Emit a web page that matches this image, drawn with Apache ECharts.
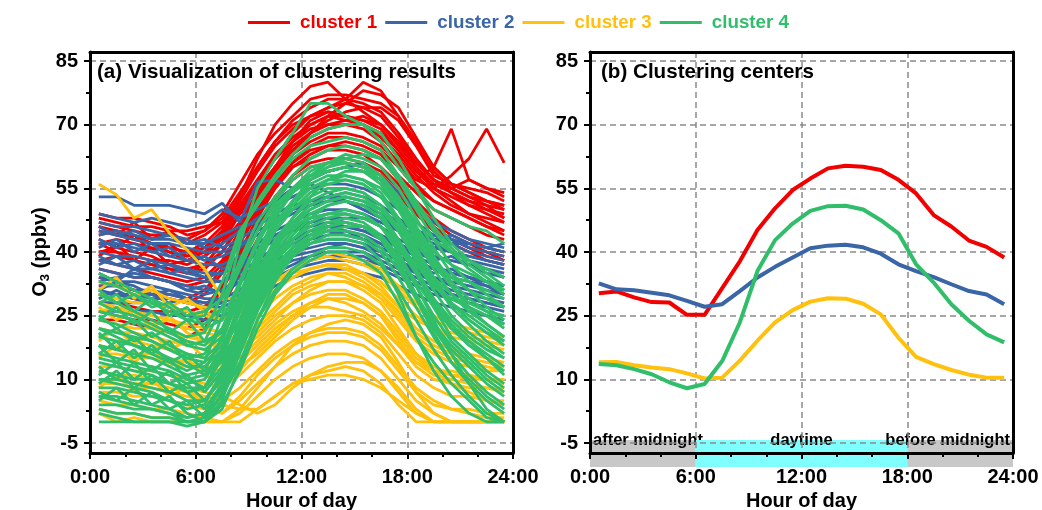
<!DOCTYPE html>
<html>
<head>
<meta charset="utf-8">
<script src="https://cdn.jsdelivr.net/npm/echarts@6/dist/echarts.min.js"></script>
<style>html,body{margin:0;padding:0;background:#fff;}#c{width:1042px;height:510px;}</style>
</head>
<body>
<div id="c"></div>
<script>
// ---------- DATA ----------
const hours = [0.5,1.5,2.5,3.5,4.5,5.5,6.5,7.5,8.5,9.5,10.5,11.5,12.5,13.5,14.5,15.5,16.5,17.5,18.5,19.5,20.5,21.5,22.5,23.5];
const clusterNames = ['cluster 1','cluster 2','cluster 3','cluster 4'];

// Panel (b): clustering centers
const center1 = [30.3,30.7,29.3,28.2,28.1,25.2,25.2,31.5,37.8,45.2,50.3,54.6,57.3,59.7,60.3,60.1,59.3,57.0,53.8,48.7,46.0,42.7,41.2,38.7];
const center2 = [32.6,31.2,31.0,30.4,29.8,28.5,27.1,27.7,30.8,34.0,36.5,38.7,40.9,41.5,41.7,41.1,39.6,37.1,35.5,34.1,32.4,30.8,30.0,27.7];
const center3 = [14.0,14.1,13.3,12.8,12.4,11.4,10.2,10.4,14.4,19.1,23.4,26.3,28.3,29.1,29.0,27.8,25.3,19.8,15.3,13.6,12.2,11.1,10.4,10.4];
const center4 = [13.6,13.3,12.4,11.2,9.3,7.9,8.9,14.3,23.4,35.5,42.8,46.7,49.7,50.8,50.9,50.0,47.5,44.4,37.1,32.8,27.7,23.8,20.6,18.7];

// Panel (a): individual daily profiles, cluster 1
const red01 = [44,45,44,42,41,40,41,44,50,56,62,68,72,74,76,80,78,72,66,60,56,54,52,50];
const red02 = [46,45,43,42,41,40,42,46,53,62,70,75,79,80,76,73,70,65,60,55,52,49,47,45];
const red03 = [40,41,40,39,37,36,37,40,46,53,60,66,70,72,71,70,68,62,57,60,69,57,55,53];
const red04 = [38,39,38,37,36,35,36,40,47,54,60,65,68,70,70,69,66,61,57,55,58,62,69,61];
const red05 = [49,48,48,47,46,44,45,48,54,60,66,70,72,73,72,71,70,66,60,56,55,57,55,54];
const red06 = [42,40,38,37,36,35,37,42,49,56,62,66,69,70,71,72,70,66,61,57,54,51,49,47];
const red07 = [38,37,36,35,34,33,34,38,45,52,58,63,66,68,68,67,65,61,56,52,50,48,46,45];
const red08 = [36,35,34,34,33,32,33,37,44,50,56,61,64,65,66,65,63,58,54,50,48,46,44,43];
const red09 = [34,33,31,30,29,28,30,35,42,49,55,60,63,65,65,64,62,57,52,48,45,43,41,40];
const red10 = [30,30,29,28,27,26,27,32,40,48,55,60,62,64,64,63,60,56,51,47,44,42,40,39];
const red11 = [28,28,27,26,26,25,26,31,39,46,53,58,61,62,62,61,59,55,50,46,43,41,40,38];
const red12 = [26,25,24,24,23,22,24,29,37,45,52,57,60,61,61,60,58,54,49,45,42,40,38,37];
const red13 = [45,44,43,42,40,39,40,43,49,55,60,64,67,69,70,70,68,64,59,56,54,52,51,50];
const red14 = [40,40,39,38,38,37,39,44,51,57,62,66,71,73,72,70,67,63,58,54,51,49,48,47];
const red15 = [47,46,45,44,44,43,45,49,56,63,68,72,76,77,77,76,75,72,66,59,55,53,51,48];
const red16 = [32,32,31,30,30,29,31,36,43,50,56,61,65,67,67,66,64,60,55,52,50,48,46,44];
const red17 = [24,24,23,22,21,20,22,27,35,43,50,55,58,59,60,59,57,53,49,45,43,41,39,38];
const red18 = [42,43,42,41,40,38,39,42,47,53,59,64,68,71,73,74,74,71,65,58,56,55,54,52];
const red19 = [48,47,46,46,45,45,46,47,49,52,57,63,68,72,75,78,77,74,67,60,56,54,52,51];
const red20 = [43,41,44,40,42,39,41,45,52,59,65,69,72,74,75,74,72,67,61,57,55,53,52,51];
const red21 = [39,42,38,41,37,38,40,44,50,57,63,67,70,72,72,71,69,64,59,55,53,51,50,49];
const red22 = [46,44,47,43,45,42,44,47,53,60,66,71,74,76,76,75,73,68,62,57,54,52,50,48];

// cluster 2
const blue01 = [53,53,51,51,51,50,49,51.5,47,56.5,57,55,56,54,52,50,48,45,43,41,40,39,38,37];
const blue02 = [49,48,47,48,47,46,47,50,48,50,52,55,57,59,60,61,58,54,50,47,45,43,42,41];
const blue03 = [45,44,43,42,42,41,40,40,42,44,47,49,51,52,52,51,49,46,44,42,40,39,38,37];
const blue04 = [40,39,39,38,37,36,35,35,37,40,43,46,48,49,49,48,46,43,41,39,38,37,36,35];
const blue05 = [38,37,36,36,35,34,33,33,35,38,41,43,45,46,46,45,43,41,39,37,35,34,33,32];
const blue06 = [36,35,34,34,33,32,31,31,33,36,39,42,43,44,45,44,42,40,38,36,34,33,32,31];
const blue07 = [34,33,33,32,31,30,29,29,31,34,37,40,42,43,43,42,40,38,36,34,32,31,30,29];
const blue08 = [32,32,31,31,30,29,28,28,30,33,36,39,40,41,42,41,39,37,35,33,31,30,29,28];
const blue09 = [30,30,30,29,29,28,27,27,29,32,35,37,39,40,40,40,38,36,34,32,30,29,28,27];
const blue10 = [28,28,28,28,27,26,25,25,27,30,33,36,37,38,38,37,36,34,32,30,29,28,27,26];
const blue11 = [26,26,26,26,25,25,24,24,26,29,32,34,35,36,36,35,34,32,30,28,27,26,25,24];
const blue12 = [33,34,35,34,33,31,30,31,34,37,40,42,44,45,44,43,41,39,37,36,35,34,32,30];
const blue13 = [42,42,41,40,39,38,37,37,39,41,44,46,47,48,48,48,47,45,43,41,40,38,37,36];
const blue14 = [31,30,29,28,27,26,25,26,28,31,34,36,38,39,39,38,37,35,33,31,29,27,25,23];
const blue15 = [47,46,46,45,44,43,41,42,45,48,51,53,55,56,56,55,53,50,47,44,43,41,40,39];
const blue16 = [44,45,44,43,43,42,42,44,46,47,48,50,52,53,54,53,51,48,45,43,42,42,41,40];
const blue17 = [41,43,40,42,39,40,38,39,41,45,47,50,51,53,52,50,48,46,44,43,44,42,41,40];
const blue18 = [37,39,36,38,35,36,34,33,36,40,44,45,47,48,47,46,44,41,40,38,39,37,36,34];
const blue19 = [35,33,36,34,33,31,32,30,33,37,40,43,44,46,45,43,42,39,37,35,36,34,33,32];
const blue20 = [43,41,42,40,41,38,39,36,38,42,45,47,49,50,50,49,47,45,42,41,42,40,39,38];
const blue21 = [31,33,32,30,31,29,28,29,31,35,38,40,41,42,42,41,40,38,35,34,33,32,31,30];
const blue22 = [39,37,38,36,37,35,34,35,37,40,43,45,46,47,46,45,44,42,40,39,38,37,35,34];
const blue23 = [29,31,29,30,28,29,27,28,30,33,36,38,39,40,39,39,37,35,33,31,30,29,28,27];
const blue24 = [46,44,45,43,44,42,43,41,43,46,49,51,52,53,53,52,50,47,45,44,43,42,41,42];

// cluster 3
const yel01 = [56,53.5,48,50,44.5,40.5,36,29,29,31,33,35,36,37,36,34,31,27,24,22,21,20,19,18];
const yel02 = [33,32,30,31,29,28,27,26,27,30,33,36,38,39,38,37,35,31,27,24,22,21,20,19];
const yel03 = [28,27,26,25,24,23,22,21,23,27,31,34,36,37,37,35,32,27,22,19,17,16,15,14];
const yel04 = [24,23,22,22,21,20,19,18,21,25,29,32,34,35,34,32,29,24,19,16,14,13,12,12];
const yel05 = [20,19,19,18,17,16,15,14,17,21,25,28,30,31,31,29,26,21,16,13,11,10,10,9];
const yel06 = [16,16,15,15,14,13,12,11,14,18,22,25,27,29,28,26,23,18,13,10,9,8,8,8];
const yel07 = [13,13,12,12,11,10,9,8,11,15,19,22,24,25,25,24,21,16,11,8,6,6,5,5];
const yel08 = [10,10,9,9,8,7,6,5,8,12,16,19,21,22,22,21,18,13,8,5,3,3,2,2];
const yel09 = [7,7,6,6,5,4,3,2,5,9,13,16,18,19,19,18,15,10,5,2,0,0,0,0];
const yel10 = [5,4,4,3,3,2,1,0,2,6,10,13,15,16,16,15,12,7,2,0,0,0,0,0];
const yel11 = [3,2,2,1,1,0,0,0,0,3,6,9,11,12,13,12,9,4,0,0,0,0,0,0];
const yel12 = [12,11,11,10,9,8,7,6,4,2,4,8,11,13,14,14,12,8,3,0,0,0,0,0];
const yel13 = [18,17,16,16,15,14,13,12,13,16,20,24,27,27,26,25,22,18,14,12,11,11,10,10];
const yel14 = [9,9,8,8,7,6,5,4,3,3,6,9,10,11,11,10,8,5,2,0,0,0,0,0];
const yel15 = [22,21,21,20,19,18,17,16,17,20,24,28,31,33,33,32,30,26,21,18,16,15,14,13];
const yel16 = [30,29,28,28,27,26,25,24,26,29,33,36,38,40,39,38,36,32,28,25,23,22,21,20];
const yel17 = [26,27,25,23,24,22,21,20,19,22,26,30,32,33,33,31,28,22,16,12,9,7,5,4];
const yel18 = [15,18,14,17,13,15,11,9,12,17,21,25,28,30,30,28,25,19,14,11,10,9,8,7];
const yel19 = [27,24,26,22,25,21,19,17,19,23,27,31,33,35,35,33,30,25,20,17,15,14,13,12];
const yel20 = [8,11,7,10,6,8,4,2,6,11,15,18,20,21,21,20,17,12,7,4,3,2,1,1];
const yel21 = [19,22,18,21,17,19,15,13,15,19,23,26,28,29,29,28,25,20,15,12,12,11,10,10];
const yel22 = [31,34,29,32,27,29,26,24,25,28,31,34,36,37,36,35,33,29,25,22,20,19,18,17];
const yel23 = [2,0,1,0,0,0,0,0,3,8,13,18,21,23,24,23,20,14,7,2,0,0,0,0];

// cluster 4
const grn01 = [22,20,18,16,14,12,14,25,42,55,62,68,75,75,72,70,66,60,55,50,48,46,45,42];
const grn02 = [30,28,26,24,22,20,21,30,44,52,58,63,67,69,70,70,68,62,55,48,42,38,35,32];
const grn03 = [35,33,31,29,27,24,25,33,45,51,57,62,65,66,67,66,64,58,51,45,40,36,33,30];
const grn04 = [26,25,24,22,20,18,19,27,38,47,53,58,62,64,65,64,62,57,50,43,37,33,30,27];
const grn05 = [18,17,16,15,13,11,12,20,33,43,50,55,59,61,62,61,58,53,46,39,33,29,26,23];
const grn06 = [14,13,12,11,9,7,8,16,28,39,46,51,55,57,58,57,54,48,41,34,28,24,21,18];
const grn07 = [10,9,8,7,5,3,4,12,24,35,43,48,52,54,55,54,51,45,38,31,25,21,18,15];
const grn08 = [6,5,4,3,2,0,1,9,21,32,40,45,49,51,52,51,48,42,35,28,22,18,15,12];
const grn09 = [2,1,0,0,0,0,0,7,19,30,38,43,47,49,50,49,46,40,32,25,19,15,11,8];
const grn10 = [0,0,0,0,0,-1,0,5,17,28,36,41,44,46,47,46,43,37,30,22,16,11,7,4];
const grn11 = [12,11,10,10,9,8,8,13,22,31,38,43,46,48,49,48,46,41,35,29,24,20,17,15];
const grn12 = [22,21,20,19,17,15,14,18,26,35,42,47,50,52,53,52,50,45,39,33,28,24,21,19];
const grn13 = [8,8,7,6,5,4,5,10,18,27,34,39,42,44,44,43,40,34,27,20,14,10,6,3];
const grn14 = [4,4,3,3,2,1,2,6,14,24,31,36,39,41,41,40,37,31,24,17,11,6,2,0];
const grn15 = [16,15,14,13,12,10,11,15,22,30,37,41,44,45,45,44,41,36,29,23,18,14,10,7];
const grn16 = [28,26,25,23,21,19,18,22,29,36,42,46,48,49,49,48,46,42,37,32,29,27,25,23];
const grn17 = [20,19,18,17,15,13,13,17,24,32,38,42,45,47,47,46,44,39,33,27,22,19,16,13];
const grn18 = [33,32,30,28,26,24,23,27,36,45,52,57,60,61,61,60,57,51,44,38,34,31,29,27];
const grn19 = [10,10,9,8,7,5,5,10,19,29,36,40,43,45,46,46,44,39,32,24,16,9,3,0];
const grn20 = [24,23,21,19,17,15,16,22,32,42,50,55,58,59,60,59,56,50,43,36,30,26,23,20];
const grn21 = [6,6,5,4,3,1,2,8,17,27,35,40,42,43,43,42,38,30,20,12,6,2,0,0];
const grn22 = [15,14,13,12,11,9,10,16,27,38,46,52,57,60,62,63,62,58,52,46,41,37,34,31];
const grn23 = [20,22,19,21,18,16,15,19,30,40,47,52,55,57,57,56,53,48,42,37,34,33,31,29];
const grn24 = [3,2,2,1,1,0,0,4,12,22,30,35,38,40,40,38,35,28,20,14,9,5,1,0];
const grn25 = [18,14,17,12,15,10,8,15,26,37,45,50,54,56,57,56,53,47,40,33,27,23,19,16];
const grn26 = [9,12,8,11,7,9,5,11,22,33,41,46,50,52,53,52,49,43,36,29,23,19,15,11];
const grn27 = [24,27,23,26,21,24,19,21,30,40,48,54,58,61,63,62,60,55,48,41,35,31,27,24];
const grn28 = [13,10,14,9,12,7,3,9,20,31,39,44,48,51,52,51,48,42,35,27,20,16,12,9];
const grn29 = [28,30,26,29,25,27,22,24,33,42,49,54,57,59,60,59,57,52,46,40,37,35,33,31];
const grn30 = [5,8,4,7,3,5,1,6,16,26,34,40,44,47,48,47,44,38,30,23,17,13,9,6];
const grn31 = [16,19,15,18,14,16,12,14,22,32,41,48,53,57,59,59,57,52,45,38,32,27,23,20];
const grn32 = [21,17,20,16,19,14,11,17,28,38,45,50,53,55,55,54,51,46,40,34,30,27,25,22];
const grn33 = [11,14,10,13,9,11,7,12,23,34,42,47,51,53,54,53,50,45,38,32,28,25,22,19];
const grn34 = [31,28,30,27,28,25,26,29,37,45,51,55,58,60,61,60,58,53,47,43,40,38,36,34];
const grn35 = [7,5,8,4,6,2,0,3,13,24,33,39,43,46,47,46,43,37,29,21,14,9,5,2];
const grn36 = [25,22,24,20,22,18,17,20,29,39,47,52,56,58,58,57,55,50,43,37,32,28,26,25];

// Shaded periods in panel (b)
const bandStart = [0, 6, 18];
const bandEnd = [6, 18, 24];
const bandLabels = ['after midnight', 'daytime', 'before midnight'];

// ---------- STYLE ----------
const COLORS = ['#F20000', '#3A65A6', '#FFC10E', '#31BE6B'];
const BAND_FILL = ['#C8C8C8', '#80FFFF', '#C8C8C8'];
const BAND_ALIGN = ['left', 'center', 'right'];
const FONT = '"Liberation Sans", Arial, sans-serif';

const groupsA = [
  [red01,red02,red03,red04,red05,red06,red07,red08,red09,red10,red11,red12,red13,red14,red15,red16,red17,red18,red19,red20,red21,red22],
  [blue01,blue02,blue03,blue04,blue05,blue06,blue07,blue08,blue09,blue10,blue11,blue12,blue13,blue14,blue15,blue16,blue17,blue18,blue19,blue20,blue21,blue22,blue23,blue24],
  [yel01,yel02,yel03,yel04,yel05,yel06,yel07,yel08,yel09,yel10,yel11,yel12,yel13,yel14,yel15,yel16,yel17,yel18,yel19,yel20,yel21,yel22,yel23],
  [grn01,grn02,grn03,grn04,grn05,grn06,grn07,grn08,grn09,grn10,grn11,grn12,grn13,grn14,grn15,grn16,grn17,grn18,grn19,grn20,grn21,grn22,grn23,grn24,grn25,grn26,grn27,grn28,grn29,grn30,grn31,grn32,grn33,grn34,grn35,grn36]
];
const centers = [center1, center2, center3, center4];

// layout (pixels)
const PLOT_TOP = 52, PLOT_H = 401, PLOT_W = 423;
const LEFT_A = 90, LEFT_B = 590;
const LAB_TOP = 61, LAB_H = 382;
const YMIN_DATA = -5 - (PLOT_TOP + PLOT_H - (LAB_TOP + LAB_H)) * 90 / LAB_H;
const YMAX_DATA = 85 + (LAB_TOP - PLOT_TOP) * 90 / LAB_H;

const chart = echarts.init(document.getElementById('c'), null, {renderer: 'canvas'});

function dataGrid(left) {
  return {left: left, top: PLOT_TOP, width: PLOT_W, height: PLOT_H, show: false, containLabel: false, outerBoundsMode: 'none'};
}
function labGrid(left) {
  return {left: left, top: LAB_TOP, width: PLOT_W, height: LAB_H, show: false, containLabel: false, outerBoundsMode: 'none'};
}
const tickLabelStyle = {color: '#000', fontWeight: 'bold', fontSize: 20, fontFamily: FONT};
const frameLine = {show: true, onZero: false, lineStyle: {color: '#000', width: 3}};

function xData(gi) {
  return {
    type: 'value', gridIndex: gi, min: 0, max: 24, interval: 6, position: 'bottom',
    axisLine: frameLine,
    axisTick: {show: true, inside: false, length: 6, lineStyle: {color: '#000', width: 2}},
    minorTick: {show: true, splitNumber: 3, length: 4, lineStyle: {color: '#000', width: 2}},
    axisLabel: Object.assign({margin: 14, formatter: v => v + ':00'}, tickLabelStyle),
    splitLine: {show: true, showMinLine: false, showMaxLine: false, lineStyle: {color: '#8a8a8a', width: 1.5, type: [6, 4]}},
    name: 'Hour of day', nameLocation: 'middle', nameGap: 37,
    nameTextStyle: {color: '#000', fontWeight: 'bold', fontSize: 20, fontFamily: FONT}
  };
}
function xTop(gi) {
  return {type: 'value', gridIndex: gi, min: 0, max: 24, position: 'top',
    axisLine: frameLine, axisTick: {show: false}, axisLabel: {show: false}, splitLine: {show: false}};
}
function xHidden(gi) {
  return {type: 'value', gridIndex: gi, min: 0, max: 24, show: false};
}
function yData(gi) {
  return {
    type: 'value', gridIndex: gi, min: YMIN_DATA, max: YMAX_DATA, position: 'left',
    axisLine: frameLine,
    axisTick: {show: false}, axisLabel: {show: false}, splitLine: {show: false}
  };
}
function yRight(gi) {
  return {type: 'value', gridIndex: gi, min: YMIN_DATA, max: YMAX_DATA, position: 'right',
    axisLine: frameLine, axisTick: {show: false}, axisLabel: {show: false}, splitLine: {show: false}};
}
function yLab(gi) {
  return {
    type: 'value', gridIndex: gi, min: -5, max: 85, interval: 15,
    axisLine: {show: false, onZero: false},
    axisTick: {show: true, inside: false, length: 6, lineStyle: {color: '#000', width: 2}},
    minorTick: {show: true, splitNumber: 2, length: 4, lineStyle: {color: '#000', width: 2}},
    axisLabel: Object.assign({margin: 12}, tickLabelStyle),
    splitLine: {show: true, lineStyle: {color: '#8a8a8a', width: 1.5, type: [6, 4]}}
  };
}

const series = [];
groupsA.forEach((lines, ci) => {
  lines.forEach(vals => {
    series.push({
      type: 'line', name: clusterNames[ci], xAxisIndex: 0, yAxisIndex: 0,
      data: hours.map((h, i) => [h, vals[i]]),
      symbol: 'none', silent: true, color: COLORS[ci],
      lineStyle: {width: 2.8, color: COLORS[ci]}, z: 3
    });
  });
});
centers.forEach((vals, ci) => {
  series.push({
    type: 'line', name: clusterNames[ci], xAxisIndex: 2, yAxisIndex: 2,
    data: hours.map((h, i) => [h, vals[i]]),
    symbol: 'none', color: COLORS[ci],
    lineStyle: {width: 4, color: COLORS[ci]}, z: 3
  });
});
series.push({
  type: 'custom', xAxisIndex: 2, yAxisIndex: 2, z: -1, silent: true, clip: false,
  data: bandStart.map((s, i) => [s, bandEnd[i], i]),
  renderItem: function (params, api) {
    const i = api.value(2);
    const p0 = api.coord([api.value(0), -5]);
    const p1 = api.coord([api.value(1), -5]);
    let tx = p0[0] + 3;
    if (BAND_ALIGN[i] === 'center') tx = (p0[0] + p1[0]) / 2;
    if (BAND_ALIGN[i] === 'right') tx = p1[0] - 3;
    return {
      type: 'group',
      children: [
        {type: 'rect', shape: {x: p0[0], y: p0[1] - 3, width: p1[0] - p0[0], height: 27}, style: {fill: BAND_FILL[i]}},
        {type: 'text', x: tx, y: p0[1] - 3, style: {text: bandLabels[i], fill: '#000', fontSize: 16.5, fontWeight: 'bold', fontFamily: FONT, align: BAND_ALIGN[i], verticalAlign: 'middle'}}
      ]
    };
  }
});

const option = {
  animation: false,
  backgroundColor: '#fff',
  legend: {
    left: 248, top: 13, padding: 0, itemWidth: 42, itemHeight: 3, itemGap: 8, icon: 'rect',
    selectedMode: false,
    textStyle: {fontWeight: 'bold', fontSize: 18.8, fontFamily: FONT, padding: [0, 0, 0, 5]},
    data: clusterNames.map((n, i) => ({name: n, textStyle: {color: COLORS[i]}}))
  },
  grid: [dataGrid(LEFT_A), labGrid(LEFT_A), dataGrid(LEFT_B), labGrid(LEFT_B)],
  xAxis: [xData(0), xHidden(1), xData(2), xHidden(3), xTop(0), xTop(2)],
  yAxis: [yData(0), yLab(1), yData(2), yLab(3), yRight(0), yRight(2)],
  graphic: [
    {type: 'text', left: 97, top: 62, z: 10, style: {text: '(a) Visualization of clustering results', fill: '#000', fontSize: 20.6, fontWeight: 'bold', fontFamily: FONT}},
    {type: 'text', left: 601, top: 62, z: 10, style: {text: '(b) Clustering centers', fill: '#000', fontSize: 20.6, fontWeight: 'bold', fontFamily: FONT}},
    {type: 'text', x: 40, y: 252, rotation: Math.PI / 2, z: 10,
      style: {text: '{o|O}{s|3}{o| (ppbv)}', align: 'center', verticalAlign: 'middle',
        rich: {o: {fontSize: 20, fontWeight: 'bold', fontFamily: FONT, fill: '#000'},
               s: {fontSize: 13, fontWeight: 'bold', fontFamily: FONT, fill: '#000', padding: [10, 0, 0, 0]}}}}
  ],
  series: series
};
chart.setOption(option);
</script>
</body>
</html>
